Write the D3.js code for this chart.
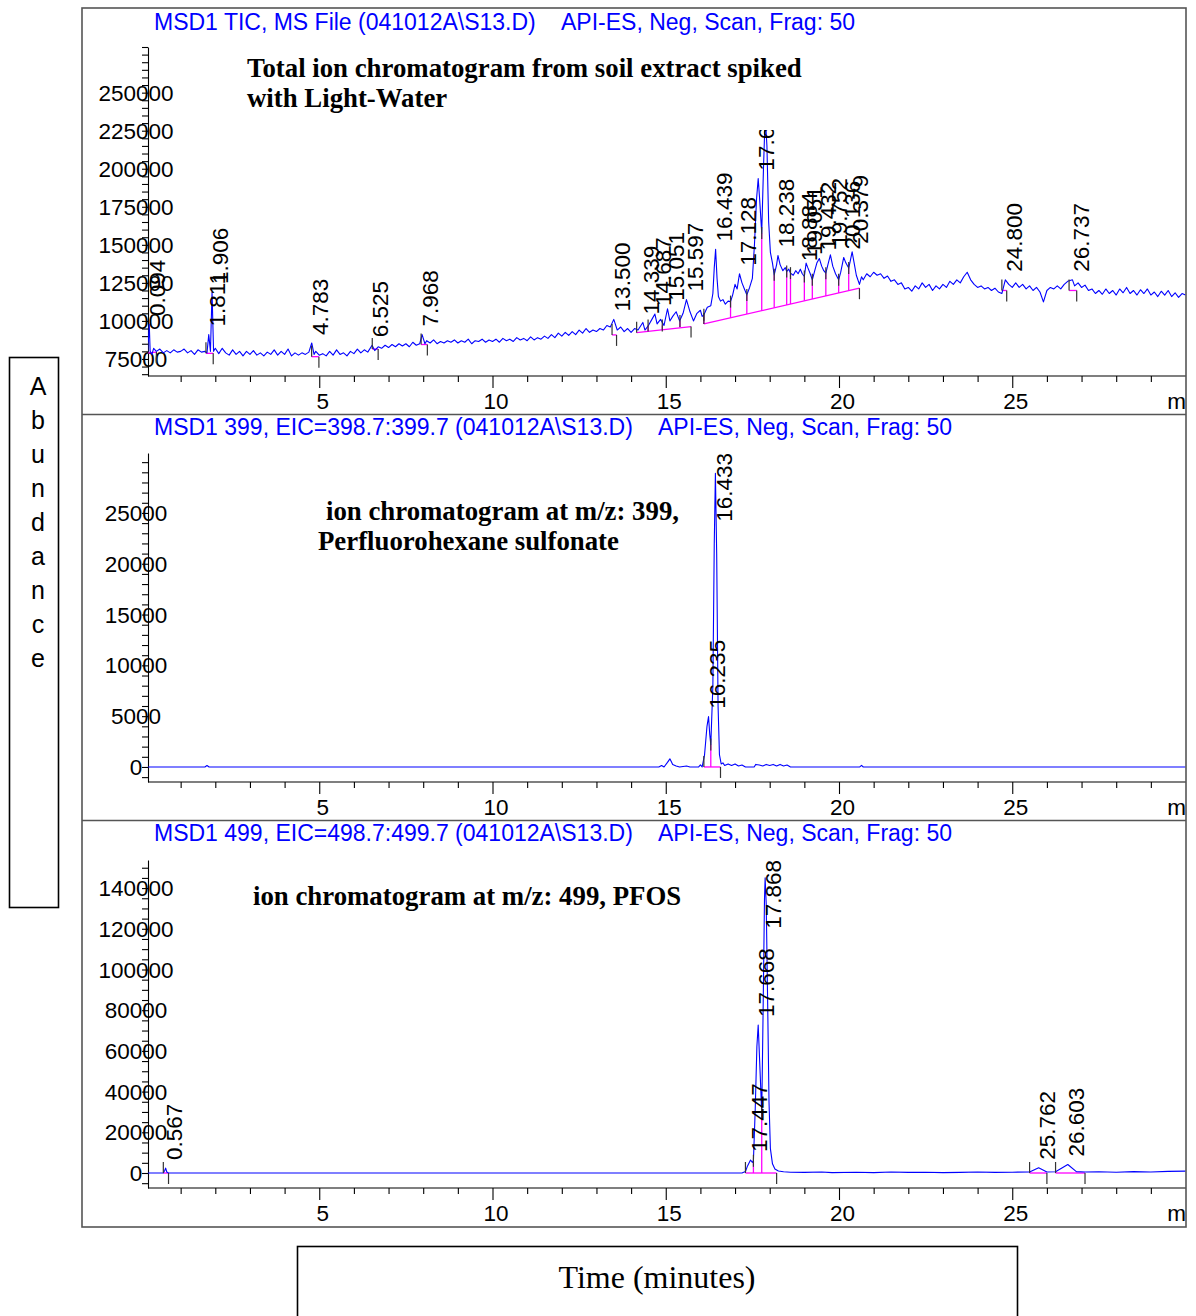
<!DOCTYPE html>
<html>
<head>
<meta charset="utf-8">
<script src="https://cdn.jsdelivr.net/npm/d3@7"></script>
<style>
  html, body { margin: 0; padding: 0; background: #fff; }
  svg { display: block; }
</style>
</head>
<body>
<svg id="chart" width="1196" height="1316"></svg>
<script>
// ---------------- data ----------------
const timeMajorTicks = [5, 10, 15, 20, 25];
const timeMinorTicks = d3.range(1, 30);

const scanInfo = "API-ES, Neg, Scan, Frag: 50";
const ticHeader = "MSD1 TIC, MS File (041012A\\S13.D)";
const eic399Header = "MSD1 399, EIC=398.7:399.7 (041012A\\S13.D)";
const eic499Header = "MSD1 499, EIC=498.7:499.7 (041012A\\S13.D)";

const ticTitle = ["Total ion chromatogram from soil extract spiked", "with Light-Water"];
const eic399Title = ["ion chromatogram at m/z: 399,", "Perfluorohexane sulfonate"];
const eic499Title = ["ion chromatogram at m/z: 499, PFOS"];

const ticYLabels = [75000, 100000, 125000, 150000, 175000, 200000, 225000, 250000];
const eic399YLabels = [0, 5000, 10000, 15000, 20000, 25000];
const eic499YLabels = [0, 20000, 40000, 60000, 80000, 100000, 120000, 140000];

// total ion current, [time (min), abundance (thousands)]
const ticTrace = [
[0.05,79],[0.094,98],[0.12,80],[0.17,78],[0.22,82],[0.3,80],[0.4,81.5],[0.5,79],[0.6,80.5],[0.7,79],[0.8,81],[0.9,79.5],
[1.0,80],[1.1,81.5],[1.2,79],[1.3,80.5],[1.4,78],[1.5,81],[1.6,79.5],[1.7,80],[1.76,79],[1.811,91],[1.86,80],[1.906,119],[1.95,80],
[2.0,82],[2.1,78.5],[2.2,82],[2.3,79],[2.4,77.5],[2.5,81],[2.6,78],[2.7,80],[2.8,77],[2.9,80],[3.0,78],[3.1,80.5],[3.2,77.5],
[3.3,79],[3.4,77],[3.5,79.5],[3.6,78],[3.7,81],[3.8,77.5],[3.9,80],[4.0,78],[4.1,81.5],[4.2,77],[4.3,79],[4.4,77.5],[4.5,79],
[4.6,78],[4.7,79.5],[4.783,85.5],[4.85,78],[4.9,80],[5.0,77.5],[5.1,78.5],[5.2,77],[5.3,80],[5.4,77.5],[5.5,81],[5.6,78],
[5.7,79],[5.8,77],[5.9,80],[6.0,78.5],[6.1,81.5],[6.2,79],[6.3,81],[6.4,79.5],[6.525,84],[6.6,80.5],[6.7,83],[6.8,82],[6.9,84],
[7.0,82.5],[7.1,84.5],[7.2,83],[7.3,85],[7.4,83.5],[7.5,85],[7.6,83],[7.7,86],[7.8,84],[7.9,85],[7.968,91],[8.05,85],[8.1,87],
[8.2,85.5],[8.3,87.5],[8.4,85],[8.5,86.5],[8.6,85.5],[8.7,87],[8.8,86],[8.9,87.5],[9.0,85.5],[9.1,87],[9.2,86],[9.3,88],[9.4,85],
[9.5,87],[9.6,86.5],[9.7,88],[9.8,86],[9.9,87.5],[10.0,86.5],[10.1,88],[10.2,86],[10.3,88.5],[10.4,87],[10.5,88],[10.6,86.5],
[10.7,89],[10.8,87.5],[10.9,88.5],[11.0,87],[11.1,89.5],[11.2,87.5],[11.3,89],[11.4,88],[11.5,90],[11.6,88.5],[11.7,91],[11.8,89],
[11.9,92],[12.0,90],[12.1,92.5],[12.2,90.5],[12.3,93],[12.4,91],[12.5,94],[12.6,92],[12.7,95],[12.8,92.5],[12.9,94],[13.0,93],
[13.1,95],[13.2,94],[13.3,97],[13.4,96],[13.5,101],[13.6,94],[13.7,96],[13.8,93],[13.9,95],[14.0,92.5],[14.1,95],[14.2,94],
[14.339,99],[14.4,94],[14.5,97],[14.6,101],[14.687,104.5],[14.75,98],[14.85,101],[14.95,97],[15.051,108],[15.12,100],[15.2,103],
[15.3,106],[15.4,100],[15.5,105],[15.597,114],[15.7,106],[15.8,100],[15.9,105],[16.0,107],[16.05,103],[16.1,104],[16.2,109],
[16.3,110],[16.36,118],[16.4,135],[16.439,147],[16.48,128],[16.52,116],[16.58,113],[16.65,114],[16.72,111],[16.8,113],[16.87,112.7],
[16.93,117],[17.0,124],[17.06,121],[17.128,131],[17.2,125],[17.27,121],[17.34,117.1],[17.42,122],[17.5,128],[17.56,150],[17.62,180],
[17.668,193.5],[17.71,180],[17.77,157.7],[17.82,200],[17.87,235],[17.92,215],[17.97,165],[18.02,145],[18.08,138],[18.13,130.3],
[18.2,137],[18.238,143],[18.3,137],[18.38,133],[18.45,135],[18.49,132.4],[18.55,134],[18.6,131.4],[18.68,130],[18.75,133],
[18.82,131],[18.884,134],[18.94,131],[19.0,129.2],[19.051,138],[19.1,135],[19.17,131],[19.23,127],[19.3,133],[19.36,138],
[19.432,141],[19.5,136],[19.56,133],[19.62,131.4],[19.68,137],[19.752,143.4],[19.82,136],[19.9,131],[19.99,127],[20.05,132],
[20.136,141.7],[20.2,138],[20.28,134.7],[20.33,140],[20.379,145.4],[20.43,139],[20.5,130],[20.59,124],[20.65,129],[20.7,127],
[20.8,131],[20.9,129],[21.0,132],[21.1,130],[21.2,131],[21.3,128],[21.4,129.5],[21.5,126],[21.6,127],[21.7,124],[21.8,125],
[21.9,121],[22.0,122],[22.1,119.5],[22.2,123],[22.3,121],[22.4,125],[22.5,122],[22.6,124],[22.7,120],[22.8,123],[22.9,121],
[23.0,124],[23.1,122],[23.2,126],[23.3,124],[23.4,127],[23.5,125],[23.6,129],[23.7,132],[23.8,127],[23.9,124],[24.0,122],
[24.1,123],[24.2,121],[24.3,122],[24.4,120],[24.5,121.5],[24.6,119],[24.7,118],[24.8,127],[24.9,124],[25.0,122],[25.1,125],
[25.2,122],[25.3,124],[25.4,121],[25.5,123],[25.6,120],[25.7,122],[25.8,119],[25.9,112.5],[26.0,120],[26.1,122],[26.2,121],
[26.3,123],[26.4,121],[26.5,124],[26.6,126],[26.737,127],[26.8,123],[26.9,125],[27.0,122],[27.1,123.5],[27.2,120],[27.3,121],
[27.4,118],[27.5,120],[27.6,117.5],[27.7,121],[27.8,118],[27.9,120],[28.0,117],[28.1,121],[28.2,118.5],[28.3,122],[28.4,118],
[28.5,120],[28.6,117],[28.7,120.5],[28.8,118],[28.9,121],[29.0,117],[29.1,119],[29.2,116],[29.3,119.5],[29.4,117],[29.5,120],
[29.6,116],[29.7,118.5],[29.8,115.5],[29.9,118],[30.0,117]
];
// labelled peaks: [retention time, apex abundance (thousands)]
const ticPeaks = [
[0.094,98],[1.811,91],[1.906,119],[4.783,85.5],[6.525,84],[7.968,91],[13.500,101],[14.339,99],[14.687,104.5],
[15.051,108],[15.597,114],[16.439,147],[17.128,131],[17.668,193.5],[18.238,143],[18.884,134],[19.051,138],[19.432,141],
[19.752,143.4],[20.136,141.7],[20.379,145.4],[24.800,127],[26.737,127]
];
// integration baselines: [t0, v0, t1, v1] (thousands)
const ticBaselines = [
[0.05,79,0.3,79.5],[1.73,78.7,1.94,78.7],[4.78,76.5,4.99,76.5],[6.53,81.5,6.70,81.5],[7.94,84.5,8.12,84.5],
[13.45,90.8,13.58,90.8],[14.16,92.3,15.73,96.3],[16.10,98,20.59,121.5],[24.70,120,24.84,120],[26.64,120,26.86,120]
];
// drop lines from the baseline up to the trace: [t, trace value]
const ticDrops = [
[16.10,104],[16.87,112.7],[17.34,117.1],[17.77,157.7],[18.13,130.3],[18.49,132.4],[18.60,131.4],[19.0,129.2],
[19.23,127],[19.62,131.4],[19.99,127],[20.28,134.7],[14.49,97],[14.9,97],[15.41,100]
];
// peak start / end markers: [t, value, direction]
const ticMarks = [
[0.05,79,-1],[0.3,79.5,1],[1.73,78.7,-1],[1.94,78.7,1],[4.78,76.5,-1],[4.99,76.5,1],[6.53,81.5,-1],[6.70,81.5,1],
[7.94,84.5,-1],[8.12,84.5,1],[13.45,90.8,-1],[13.58,90.8,1],[14.16,92.3,-1],[15.73,96.3,1],[16.10,98,-1],[20.59,121.5,1],
[24.70,120,-1],[24.84,120,1],[26.64,120,-1],[26.86,120,1]
];

// m/z 399 extracted ion current, [time, abundance]
const eic399Trace = [
[0.05,0],[1.7,0],[1.76,150],[1.82,0],[14.8,0],[14.88,150],[14.95,0],[15.05,450],[15.12,800],[15.2,250],[15.3,100],[15.4,0],
[15.6,100],[15.7,0],[15.95,0],[16.0,200],[16.05,0],[16.12,1200],[16.19,4000],[16.235,4950],[16.27,3200],[16.3,2200],
[16.36,8000],[16.4,22000],[16.433,28900],[16.47,21000],[16.51,6000],[16.55,1200],[16.6,300],[16.65,400],[16.7,150],
[16.8,300],[16.9,150],[17.0,300],[17.1,100],[17.2,200],[17.3,0],[17.55,0],[17.6,250],[17.7,200],[17.8,100],[17.9,250],
[18.0,150],[18.1,250],[18.2,100],[18.3,250],[18.4,100],[18.5,200],[18.6,0],[20.6,0],[20.65,150],[20.7,0],[30,0]
];
const eic399Peaks = [[16.235,4950],[16.433,28900]];
const eic399Baselines = [[16.10,0,16.58,0]];
const eic399Drops = [[16.3,2200]];
const eic399Marks = [[16.10,0,-1],[16.58,0,1]];

// m/z 499 extracted ion current, [time, abundance]
const eic499Trace = [
[0.05,0],[0.5,0],[0.54,1200],[0.567,2400],[0.6,500],[0.65,0],[17.2,0],[17.3,700],[17.36,3500],[17.447,6400],[17.5,5200],
[17.53,6000],[17.58,30000],[17.63,62000],[17.668,72700],[17.71,55000],[17.77,29300],[17.81,80000],[17.85,135000],
[17.868,145000],[17.9,132000],[17.94,85000],[17.98,35000],[18.02,12000],[18.08,4500],[18.15,2000],[18.25,1000],[18.4,600],
[18.6,400],[19.0,300],[19.5,500],[19.8,200],[20.5,400],[21.0,200],[21.5,500],[22.0,300],[22.5,400],[23.0,200],[23.5,300],
[24.0,500],[24.5,300],[25.0,400],[25.5,500],[25.762,2600],[26.0,500],[26.25,600],[26.603,4200],[26.85,700],[27.1,500],
[27.5,600],[28.0,400],[28.5,700],[29.0,500],[29.5,800],[30.0,900]
];
const eic499Peaks = [[0.567,2400],[17.447,6400],[17.668,72700],[17.868,145000],[25.762,2600],[26.603,4200]];
const eic499Baselines = [[0.5,0,0.65,0],[17.3,0,18.2,0],[25.5,0,26.0,0],[26.25,0,27.1,0]];
const eic499Drops = [[17.53,6000],[17.77,29300]];
const eic499Marks = [[0.5,0,-1],[0.65,0,1],[17.3,0,-1],[18.2,0,1],[25.5,0,-1],[26.0,0,1],[26.25,0,-1],[27.1,0,1]];

const yAxisTitle = "Abundance";
const xAxisTitle = "Time (minutes)";

// ---------------- drawing ----------------
const SANS = "'Liberation Sans', Arial, sans-serif";
const SERIF = "'Liberation Serif', 'Times New Roman', serif";
const BLUE = "#0000ff";
const MAGENTA = "#ff00ff";

const svg = d3.select("#chart");
svg.append("rect").attr("width", 1196).attr("height", 1316).attr("fill", "#fff");
const defs = svg.append("defs");

const x = d3.scaleLinear().domain([0, 30]).range([146, 1185.5]);
const xLeft = 148, xRight = 1186;

const k = v => v * 1000;
const panels = [
  { id: "tic", header: ticHeader, infoX: 561, headerY: 29.5, axisTop: 47, axisY: 376, clipTop: 130,
    domain: [63800, 280000], minorStep: 5000, yLabels: ticYLabels,
    title: ticTitle, titleX: [247, 247], titleY: [77, 107],
    trace: ticTrace.map(d => [d[0], k(d[1])]),
    peaks: ticPeaks.map(d => [d[0], k(d[1])]),
    baselines: ticBaselines.map(d => [d[0], k(d[1]), d[2], k(d[3])]),
    drops: ticDrops.map(d => [d[0], k(d[1])]),
    marks: ticMarks.map(d => [d[0], k(d[1]), d[2]]) },
  { id: "e399", header: eic399Header, infoX: 658, headerY: 435, axisTop: 453, axisY: 782, clipTop: 453,
    domain: [-1480, 30900], minorStep: 1000, yLabels: eic399YLabels,
    title: eic399Title, titleX: [326, 318], titleY: [520, 550],
    trace: eic399Trace, peaks: eic399Peaks, baselines: eic399Baselines, drops: eic399Drops, marks: eic399Marks },
  { id: "e499", header: eic499Header, infoX: 658, headerY: 841, axisTop: 860, axisY: 1188, clipTop: 860,
    domain: [-7370, 153800], minorStep: 5000, yLabels: eic499YLabels,
    title: eic499Title, titleX: [253], titleY: [905],
    trace: eic499Trace, peaks: eic499Peaks, baselines: eic499Baselines, drops: eic499Drops, marks: eic499Marks }
];

panels.forEach(p => {
  const g = svg.append("g").attr("class", "panel-" + p.id);
  const y = d3.scaleLinear().domain(p.domain).range([p.axisY, p.axisTop]);

  // header line
  g.append("text").attr("x", 154).attr("y", p.headerY).attr("fill", BLUE)
    .attr("font-family", SANS).attr("font-size", 23).text(p.header);
  g.append("text").attr("x", p.infoX).attr("y", p.headerY).attr("fill", BLUE)
    .attr("font-family", SANS).attr("font-size", 23).text(scanInfo);

  // annotation title
  p.title.forEach((line, i) => {
    g.append("text").attr("x", p.titleX[i]).attr("y", p.titleY[i])
      .attr("font-family", SERIF).attr("font-weight", "bold").attr("font-size", 26.8)
      .attr("fill", "#000").text(line);
  });

  // y axis with minor ticks
  const lo = Math.ceil(p.domain[0] / p.minorStep) * p.minorStep;
  const yMinor = d3.range(lo, p.domain[1] + 1, p.minorStep);
  const yAx = g.append("g").attr("transform", `translate(${xLeft},0)`)
    .call(d3.axisLeft(y).tickValues(yMinor).tickSize(6).tickSizeOuter(0).tickFormat(""));
  yAx.selectAll("path, line").attr("stroke", "#000").attr("stroke-width", 1.1);

  // y tick labels (centred, crossing the axis line)
  g.append("g").selectAll("text").data(p.yLabels).join("text")
    .attr("x", 136).attr("y", d => y(d)).attr("dy", "0.36em")
    .attr("text-anchor", "middle").attr("font-family", SANS).attr("font-size", 22.5)
    .attr("fill", "#000").text(d => d);

  // x axis
  const xAxG = g.append("g").attr("transform", `translate(0,${p.axisY})`);
  xAxG.call(d3.axisBottom(x).tickValues(timeMinorTicks.filter(t => !timeMajorTicks.includes(t)))
      .tickSize(6).tickSizeOuter(0).tickFormat(""));
  xAxG.select(".domain").remove();
  const xMaj = g.append("g").attr("transform", `translate(0,${p.axisY})`)
    .call(d3.axisBottom(x).tickValues(timeMajorTicks).tickSize(12).tickSizeOuter(0).tickPadding(5));
  xMaj.select(".domain").remove();
  xMaj.selectAll("text").attr("x", 3).attr("font-family", SANS).attr("font-size", 22.5).attr("fill", "#000");
  g.selectAll(".tick line").attr("stroke", "#000").attr("stroke-width", 1.1);
  g.append("line").attr("x1", xLeft).attr("x2", xRight).attr("y1", p.axisY).attr("y2", p.axisY)
    .attr("stroke", "#000").attr("stroke-width", 1.1);
  g.append("text").attr("x", xRight).attr("y", p.axisY + 33).attr("text-anchor", "end")
    .attr("font-family", SANS).attr("font-size", 22.5).attr("fill", "#000").text("m");

  // plot clip
  const clipId = "clip-" + p.id;
  defs.append("clipPath").attr("id", clipId).append("rect")
    .attr("x", xLeft).attr("y", p.clipTop).attr("width", xRight - xLeft).attr("height", p.axisY - p.clipTop);
  const plot = g.append("g").attr("clip-path", `url(#${clipId})`);

  // integration baselines and drop lines
  const baseAt = t => {
    const s = p.baselines.find(b => t >= b[0] - 1e-6 && t <= b[2] + 1e-6);
    if (!s) return null;
    return s[1] + (s[3] - s[1]) * (t - s[0]) / (s[2] - s[0]);
  };
  plot.selectAll(".bl").data(p.baselines).join("line").attr("class", "bl")
    .attr("x1", d => x(d[0])).attr("y1", d => y(d[1])).attr("x2", d => x(d[2])).attr("y2", d => y(d[3]))
    .attr("stroke", MAGENTA).attr("stroke-width", 1.3);
  plot.selectAll(".drop").data(p.drops.filter(d => baseAt(d[0]) !== null)).join("line").attr("class", "drop")
    .attr("x1", d => x(d[0])).attr("x2", d => x(d[0]))
    .attr("y1", d => y(baseAt(d[0]))).attr("y2", d => y(d[1]))
    .attr("stroke", MAGENTA).attr("stroke-width", 1.3);

  // trace
  plot.append("path").datum(p.trace)
    .attr("d", d3.line().x(d => x(d[0])).y(d => y(d[1])))
    .attr("fill", "none").attr("stroke", BLUE).attr("stroke-width", 1.1).attr("stroke-linejoin", "round");

  // peak markers
  plot.selectAll(".mk").data(p.marks).join("line").attr("class", "mk")
    .attr("x1", d => x(d[0])).attr("x2", d => x(d[0]))
    .attr("y1", d => y(d[1])).attr("y2", d => y(d[1]) + d[2] * 11)
    .attr("stroke", "#333").attr("stroke-width", 1.2);
  plot.selectAll(".dmk").data(p.drops).join("line").attr("class", "dmk")
    .attr("x1", d => x(d[0])).attr("x2", d => x(d[0]))
    .attr("y1", d => y(d[1]) - 6).attr("y2", d => y(d[1]) + 6)
    .attr("stroke", "#333").attr("stroke-width", 1.2);

  // retention time labels
  p.peaks.forEach(d => {
    const t = plot.append("text").attr("font-family", SANS).attr("font-size", 22.5)
      .attr("fill", "#000").attr("dy", "0.72em").text(d[0].toFixed(3));
    const len = t.node().getComputedTextLength();
    const yb = Math.max(y(d[1]) - 8, p.axisTop + len);
    t.attr("transform", `translate(${x(d[0])},${yb}) rotate(-90)`);
  });
});

// outer frame and panel separators
svg.append("rect").attr("x", 82).attr("y", 8).attr("width", 1104).attr("height", 1219)
  .attr("fill", "none").attr("stroke", "#555").attr("stroke-width", 1.6);
[414.5, 820.5].forEach(yy => svg.append("line").attr("x1", 82).attr("x2", 1186)
  .attr("y1", yy).attr("y2", yy).attr("stroke", "#555").attr("stroke-width", 1.6));

// vertical axis title box
svg.append("rect").attr("x", 9.5).attr("y", 357.5).attr("width", 49).attr("height", 550)
  .attr("fill", "#fff").attr("stroke", "#000").attr("stroke-width", 1.6);
svg.append("g").selectAll("text").data(yAxisTitle.split("")).join("text")
  .attr("x", 38).attr("y", (d, i) => 395 + i * 34).attr("text-anchor", "middle")
  .attr("font-family", SANS).attr("font-size", 25).attr("fill", "#000").text(d => d);

// horizontal axis title box
svg.append("rect").attr("x", 297.5).attr("y", 1246.5).attr("width", 720).attr("height", 90)
  .attr("fill", "#fff").attr("stroke", "#000").attr("stroke-width", 1.6);
svg.append("text").attr("x", 657).attr("y", 1288).attr("text-anchor", "middle")
  .attr("font-family", SERIF).attr("font-size", 32).attr("fill", "#000").text(xAxisTitle);
</script>
</body>
</html>
